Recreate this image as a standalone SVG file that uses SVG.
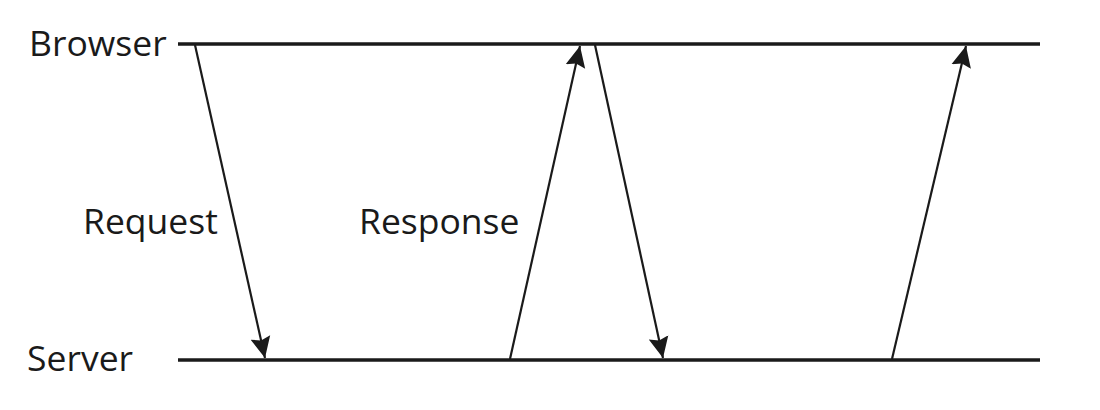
<svg xmlns="http://www.w3.org/2000/svg" width="1100" height="410" viewBox="0 0 1100 410">
<style>
.lbl{font-family:"Open Sans","Noto Sans","Liberation Sans",sans-serif;font-size:35.5px;font-weight:500;fill:#1a1a1a}
.tl{stroke:#1a1a1a;stroke-width:3.5;fill:none}
.msg{stroke:#1a1a1a;stroke-width:2.2;fill:none;marker-end:url(#ah)}
</style>
<defs>
<marker id="ah" markerUnits="userSpaceOnUse" markerWidth="24" markerHeight="24" viewBox="0 0 24 24" refX="21" refY="12" orient="auto">
<path d="M0,2 L21,12 L0,22 L3,12 Z" fill="#1a1a1a"/>
</marker>
</defs>
<rect width="1100" height="410" fill="#fff"/>
<g id="browser">
<text class="lbl" x="29" y="56">Browser</text>
</g>
<g id="server">
<text class="lbl" x="27" y="371">Server</text>
</g>
<g id="timelines">
<line class="tl" x1="178" y1="44" x2="1040" y2="44"/>
<line class="tl" x1="178" y1="360" x2="1040" y2="360"/>
</g>
<g id="connectors">
<line class="msg" x1="195" y1="45" x2="265" y2="358"/>
<line class="msg" x1="510" y1="359" x2="580" y2="46"/>
<line class="msg" x1="595" y1="45" x2="663" y2="358"/>
<line class="msg" x1="892" y1="359" x2="966" y2="46"/>
</g>
<g id="labels">
<text class="lbl" x="83" y="234">Request</text>
<text class="lbl" x="359" y="234">Response</text>
</g>
</svg>
